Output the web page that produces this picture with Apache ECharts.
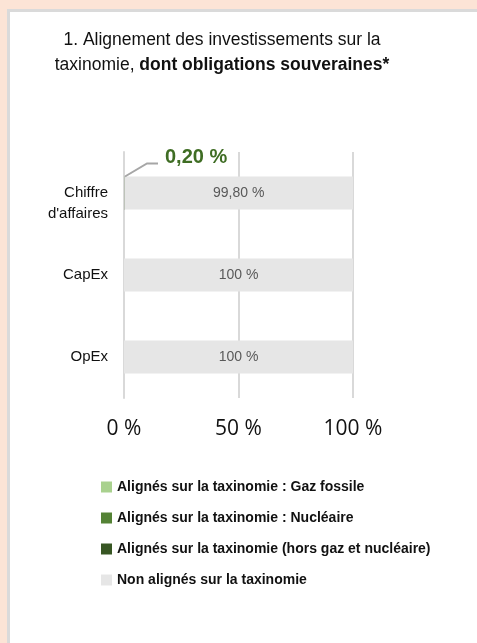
<!DOCTYPE html>
<html><head><meta charset="utf-8">
<script src="https://cdn.jsdelivr.net/npm/echarts@6/dist/echarts.min.js"></script>
<style>
html,body{margin:0;padding:0;width:477px;height:643px;overflow:hidden;background:#fce4d6;}
#panel{position:absolute;left:7px;top:9px;width:480px;height:650px;background:#fff;border:3px solid #dadada;box-sizing:border-box;}
#chart{position:absolute;left:0;top:0;width:477px;height:643px;}
</style></head>
<body><div id="panel"></div><div id="chart"></div>
<script>
const categories = ["Chiffre\nd'affaires", "CapEx", "OpEx"];
const gasFossile = [0, 0, 0];
const nucleaire = [0, 0, 0];
const alignesHors = [0.2, 0, 0];
const nonAlignes = [99.8, 100, 100];
const xTicks = ["0 %", "50 %", "100 %"];
const seriesNames = ["Alignés sur la taxinomie : Gaz fossile", "Alignés sur la taxinomie : Nucléaire", "Alignés sur la taxinomie (hors gaz et nucléaire)", "Non alignés sur la taxinomie"];
const colors = ["#a9d18e", "#548235", "#375623", "#e6e6e6"];

const NARROW = "'Liberation Sans Narrow','Arial Narrow','Liberation Sans',sans-serif";
const fmt = v => (v === 100 ? '100' : v.toFixed(2).replace('.', ',')) + ' %';

const chart = echarts.init(document.getElementById('chart'));
const datas = [gasFossile, nucleaire, alignesHors, nonAlignes];
const option = {
  animation: false,
  color: colors,
  title: {
    text: "1. Alignement des investissements sur la\ntaxinomie, {b|dont obligations souveraines*}",
    left: 217, top: 23, textAlign: 'center',
    textStyle: { fontFamily: NARROW, fontSize: 17.5, fontWeight: 'normal', color: '#111', lineHeight: 25,
      rich: { b: { fontFamily: NARROW, fontSize: 17.5, fontWeight: 'bold', color: '#111' } } }
  },
  legend: {
    orient: 'vertical', left: 96, top: 475, itemWidth: 11, itemHeight: 11, itemGap: 17,
    icon: 'rect', selectedMode: false,
    textStyle: { fontFamily: NARROW, fontSize: 14, fontWeight: 'bold', color: '#111' },
    data: seriesNames
  },
  grid: { left: 124, right: 124, top: 152, bottom: 245 },
  xAxis: {
    type: 'value', min: 0, max: 100, interval: 50,
    axisLine: { show: false }, axisTick: { show: false },
    splitLine: { show: true, lineStyle: { color: '#d9d9d9', width: 2 } },
    axisLabel: { margin: 21, fontFamily: "'Open Sans',sans-serif", fontSize: 21, color: '#111',
      formatter: (v) => xTicks[Math.round(v / 50)] }
  },
  yAxis: {
    type: 'category', data: categories, inverse: true,
    axisLine: { show: true, lineStyle: { color: '#d9d9d9', width: 2 } }, axisTick: { show: false },
    axisLabel: { margin: 16, fontFamily: NARROW, fontSize: 15, color: '#111', lineHeight: 21,
      formatter: v => (v.indexOf('\n') >= 0 ? '\n' + v : v) }
  },
  series: seriesNames.map((n, i) => ({
    name: n, type: 'bar', stack: 'tot', data: datas[i], barWidth: 33,
    itemStyle: { color: colors[i] },
    label: i === 3 ? { show: true, position: 'inside', formatter: p => fmt(p.value),
      fontFamily: NARROW, fontSize: 14, color: '#595959' } : { show: false }
  }))
};
chart.setOption(option);

// annotation for the small aligned share on the first category
const p0 = chart.convertToPixel({ gridIndex: 0 }, [0, 0]);
const barTop = p0[1] - 16.5;
chart.setOption({
  graphic: [
    { type: 'polyline', shape: { points: [[p0[0] + 1, barTop], [p0[0] + 23, barTop - 13], [p0[0] + 34, barTop - 13]] },
      style: { stroke: '#a6a6a6', lineWidth: 2, fill: null }, z: 10 },
    { type: 'text', x: p0[0] + 41, y: barTop - 19,
      style: { text: fmt(alignesHors[0]), fontFamily: NARROW, fontSize: 20, fontWeight: 'bold', fill: '#3f6d24',
        verticalAlign: 'middle', align: 'left' }, z: 10 }
  ]
});
</script></body></html>
